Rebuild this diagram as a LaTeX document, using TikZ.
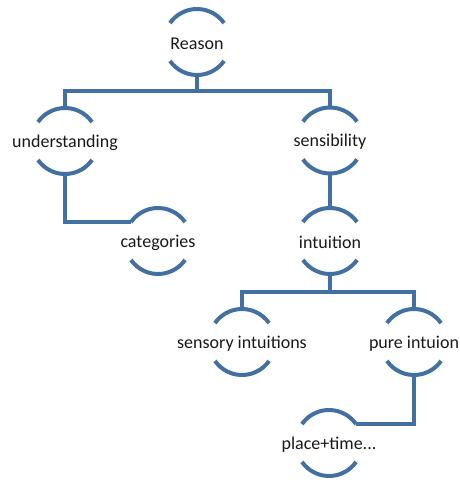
\documentclass[tikz,border=0pt]{standalone}
\usepackage{fontspec}
\setmainfont{Carlito}
\definecolor{hblue}{RGB}{66,112,163}
\tikzset{
  hn/.style={circle, minimum size=66pt, inner sep=0pt, outer sep=0pt,
    label={[font=\fontsize{18}{21}\selectfont, text=black!90, yshift=-1.5pt]center:#1}},
  arcline/.style={draw=hblue, line width=4pt},
  conn/.style={draw=hblue, line width=4pt}
}
\begin{document}
\begin{tikzpicture}[x=1pt,y=1pt]
\useasboundingbox (0,0) rectangle (460,-487);
\node[hn=Reason] (r) at (197,-42) {};
\node[hn=understanding] (u) at (65,-141) {};
\node[hn=sensibility] (s) at (330,-140.5) {};
\node[hn=categories] (c) at (158,-241) {};
\node[hn=intuition] (i) at (330,-241) {};
\node[hn=sensory intuitions] (si) at (242,-342) {};
\node[hn=pure intuion] (pi) at (414,-342) {};
\node[hn=place+time...] (pt) at (329,-443) {};
\foreach \n in {r,u,s,c,i,si,pi,pt}{
  \draw[arcline] (\n.35) arc[start angle=35,end angle=145,radius=33pt];
  \draw[arcline] (\n.215) arc[start angle=215,end angle=325,radius=33pt];
}
\coordinate (b1) at (197,-91);
\coordinate (b2) at (330,-292);
\draw[conn] (r.south) -- (b1);
\draw[conn] (u.north) |- (b1) -| (s.north);
\draw[conn] (u.south) |- (c.145);
\draw[conn] (s.south) -- (i.north);
\draw[conn] (i.south) -- (b2);
\draw[conn] (si.north) |- (b2) -| (pi.north);
\draw[conn] (pi.south) |- (pt.35);
\end{tikzpicture}
\end{document}
